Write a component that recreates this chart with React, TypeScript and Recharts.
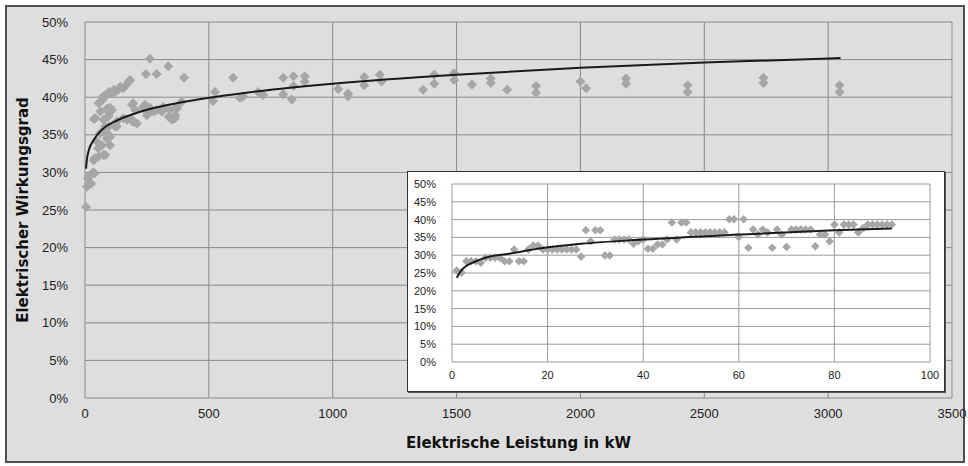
import React from "react";
import { ScatterChart, Scatter, XAxis, YAxis, CartesianGrid, Label } from "recharts";

const mainPowerKw = [
  4, 8, 12, 18, 25, 32, 39,
  35, 55, 82, 74, 40, 53, 69, 48, 101, 96, 75, 61, 88, 101,
  96, 81, 122, 128, 42, 36, 75, 96, 93, 89, 109, 62, 129, 101, 88,
  55, 61, 69, 73, 81, 96, 108, 116, 121, 134, 142, 155, 165, 178, 182,
  190, 194, 203, 190, 170, 194, 210, 155, 234, 243, 242, 250, 257, 262, 277, 290,
  303, 311, 316, 338, 343, 351, 356, 363, 365, 370, 371, 390,
  246, 262, 289, 336, 400,
  517, 525, 598, 626, 638, 699, 719, 800, 800, 835, 842, 842, 887, 887,
  1022, 1062, 1062, 1127, 1127, 1190, 1197, 1365, 1410, 1410, 1490, 1490, 1562,
  1638, 1638, 1704, 1821, 1821, 2000, 2023, 2184, 2184, 2433, 2433, 2739, 2739, 3046, 3046,
];
const mainEfficiency = [
  25.4, 28.1, 29.2, 29.6, 28.5, 30.0, 29.9,
  31.6, 32.1, 32.3, 32.3, 31.9, 33.2, 33.6, 34.1, 33.6, 35.0, 35.4, 35.2, 34.5, 34.7,
  36.1, 36.1, 36.1, 36.1, 37.2, 37.1, 37.0, 37.6, 37.4, 38.5, 38.3, 38.1, 36.8, 38.6, 38.3,
  39.2, 39.4, 39.6, 40.1, 40.1, 40.7, 40.5, 41.0, 40.7, 41.0, 41.4, 41.2, 41.6, 42.1, 42.3,
  39.0, 39.2, 38.3, 37.0, 37.0, 36.7, 36.5, 37.2, 38.7, 38.3, 39.0, 37.6, 37.9, 38.6, 38.1, 38.3,
  38.3, 38.1, 38.7, 37.4, 38.3, 37.0, 37.2, 37.2, 37.6, 38.7, 38.5, 39.4,
  43.1, 45.1, 43.1, 44.1, 42.6,
  39.5, 40.7, 42.6, 39.9, 40.1, 40.7, 40.3, 42.6, 40.4, 39.7, 41.5, 42.8, 42.8, 42.1,
  41.1, 40.5, 40.1, 42.7, 41.6, 43.0, 42.1, 41.0, 43.0, 41.8, 43.2, 42.3, 41.7,
  42.5, 41.9, 41.0, 41.5, 40.6, 42.1, 41.2, 42.5, 41.8, 41.6, 40.7, 42.6, 41.9, 41.6, 40.7,
];

const mainFitPowerKw = [4, 8, 15, 35, 69, 122, 190, 257, 338, 420, 517, 700, 1000, 1500, 2000, 2500, 3050];
const mainFitEfficiency = [30.5, 31.8, 32.9, 34.3, 35.7, 36.8, 37.7, 38.4, 39.0, 39.5, 40.0, 40.8, 41.8, 43.0, 43.9, 44.6, 45.2];

const insetPowerKw = [
  1, 2, 3, 4, 5, 6, 7, 8, 9, 10, 11, 12, 13, 14, 15, 16, 17, 18, 19, 20,
  21, 22, 23, 24, 25, 26, 27, 28, 29, 30, 31, 32, 33, 34, 35, 36, 37, 38, 39, 40,
  41, 42, 43, 44, 45, 46, 47, 48, 49, 50, 51, 52, 53, 54, 55, 56, 57, 58, 59, 60,
  61, 62, 63, 64, 65, 66, 67, 68, 69, 70, 71, 72, 73, 74, 75, 76, 77, 78, 79, 80,
  81, 82, 83, 84, 85, 86, 87, 88, 89, 90, 91, 92,
];
const insetEfficiency = [
  25.7, 25.1, 28.3, 28.3, 28.3, 27.9, 29.3, 29.3, 29.3, 29.3, 28.3, 28.3, 31.6, 28.3, 28.3, 31.6, 32.7, 32.7, 31.6, 31.6,
  31.6, 31.6, 31.6, 31.6, 31.6, 31.6, 29.6, 37.0, 33.9, 37.0, 37.0, 29.9, 29.9, 34.4, 34.4, 34.4, 34.4, 33.2, 33.9, 34.4,
  31.8, 31.8, 33.0, 33.0, 34.4, 39.2, 34.4, 39.2, 39.2, 36.4, 36.4, 36.4, 36.4, 36.4, 36.4, 36.4, 36.4, 40.1, 40.1, 35.1,
  40.1, 32.1, 37.2, 35.8, 37.2, 36.4, 32.1, 37.2, 35.8, 32.3, 37.2, 37.2, 37.2, 37.2, 37.2, 32.5, 35.8, 35.8, 33.9, 38.6,
  36.4, 38.6, 38.6, 38.6, 36.4, 37.6, 38.6, 38.6, 38.6, 38.6, 38.6, 38.6,
];

const insetFitPowerKw = [1, 2, 3, 5, 7, 12, 19, 27, 40, 60, 80, 92];
const insetFitEfficiency = [23.7, 25.8, 27.0, 28.3, 29.3, 30.4, 32.0, 33.2, 34.4, 35.8, 37.0, 37.5];

const mainXTicks = [0, 500, 1000, 1500, 2000, 2500, 3000, 3500];
const insetXTicks = [0, 20, 40, 60, 80, 100];
const percentTicks = [0, 5, 10, 15, 20, 25, 30, 35, 40, 45, 50];

const toPoints = (xs: number[], ys: number[]) => xs.map((x, i) => ({ x, y: ys[i] }));

const mainData = toPoints(mainPowerKw, mainEfficiency);
const mainFit = toPoints(mainFitPowerKw, mainFitEfficiency);
const insetData = toPoints(insetPowerKw, insetEfficiency);
const insetFit = toPoints(insetFitPowerKw, insetFitEfficiency);

const font = "'Liberation Sans', Arial, sans-serif";
const titleFont = "'DejaVu Sans', sans-serif";

const diamond = (r: number) => (props: any) => {
  const { cx, cy } = props;
  if (cx == null || cy == null) return <g />;
  return <path d={`M${cx},${cy - r}L${cx + r},${cy}L${cx},${cy + r}L${cx - r},${cy}Z`} fill="#a6a6a6" />;
};

const noDot = () => <g />;

export default function App() {
  return (
    <div style={{ position: "absolute", left: 0, top: 0, width: 968, height: 466, background: "#fff" }}>
      <div
        style={{
          position: "absolute",
          left: 5,
          top: 5,
          width: 960,
          height: 458,
          boxSizing: "border-box",
          border: "2px solid #505050",
          background: "#dedede",
        }}
      />
      <div style={{ position: "absolute", left: 0, top: 0 }}>
        <ScatterChart width={968} height={466} margin={{ top: 22, right: 16, bottom: 18, left: 0 }}>
          <CartesianGrid stroke="#8a8a8a" strokeWidth={1} />
          <XAxis
            type="number"
            dataKey="x"
            domain={[0, 3500]}
            ticks={mainXTicks}
            interval={0}
            height={50}
            axisLine={false}
            tickLine={false}
            tickSize={0}
            tickMargin={11}
            tick={{ fill: "#222", fontSize: 13, fontFamily: font }}
          >
            <Label
              value="Elektrische Leistung in kW"
              position="insideBottom"
              offset={0}
              style={{ fill: "#111", fontSize: 15, fontWeight: 700, fontFamily: titleFont }}
            />
          </XAxis>
          <YAxis
            type="number"
            dataKey="y"
            domain={[0, 50]}
            ticks={percentTicks}
            interval={0}
            width={85}
            axisLine={false}
            tickLine={false}
            tickSize={0}
            tickMargin={17}
            tickFormatter={(v) => `${v}%`}
            tick={{ fill: "#222", fontSize: 13, fontFamily: font }}
          >
            <Label
              value="Elektrischer Wirkungsgrad"
              position="insideLeft"
              angle={-90}
              offset={23}
              textAnchor="middle"
              style={{ textAnchor: "middle", fill: "#111", fontSize: 15, fontWeight: 700, fontFamily: titleFont }}
            />
          </YAxis>
          <Scatter data={mainData} shape={diamond(5)} isAnimationActive={false} />
          <Scatter
            data={mainFit}
            shape={noDot}
            line={{ stroke: "#1a1a1a", strokeWidth: 2 }}
            lineJointType="monotoneX"
            isAnimationActive={false}
          />
        </ScatterChart>
      </div>
      <div
        style={{
          position: "absolute",
          left: 407,
          top: 171,
          width: 538,
          height: 221,
          boxSizing: "border-box",
          border: "1px solid #333",
          boxShadow: "1px 1px 0 #555",
          background: "#fff",
        }}
      >
        <ScatterChart width={536} height={219} margin={{ top: 12, right: 14, bottom: 0, left: 0 }}>
          <CartesianGrid stroke="#9a9a9a" strokeWidth={1} />
          <XAxis
            type="number"
            dataKey="x"
            domain={[0, 100]}
            ticks={insetXTicks}
            interval={0}
            height={29}
            axisLine={false}
            tickLine={false}
            tickSize={0}
            tickMargin={9}
            tick={{ fill: "#222", fontSize: 11, fontFamily: font }}
          />
          <YAxis
            type="number"
            dataKey="y"
            domain={[0, 50]}
            ticks={percentTicks}
            interval={0}
            width={44}
            axisLine={false}
            tickLine={false}
            tickSize={0}
            tickMargin={16}
            tickFormatter={(v) => `${v}%`}
            tick={{ fill: "#222", fontSize: 11, fontFamily: font }}
          />
          <Scatter data={insetData} shape={diamond(4.3)} isAnimationActive={false} />
          <Scatter
            data={insetFit}
            shape={noDot}
            line={{ stroke: "#1a1a1a", strokeWidth: 2 }}
            lineJointType="monotoneX"
            isAnimationActive={false}
          />
        </ScatterChart>
      </div>
    </div>
  );
}
